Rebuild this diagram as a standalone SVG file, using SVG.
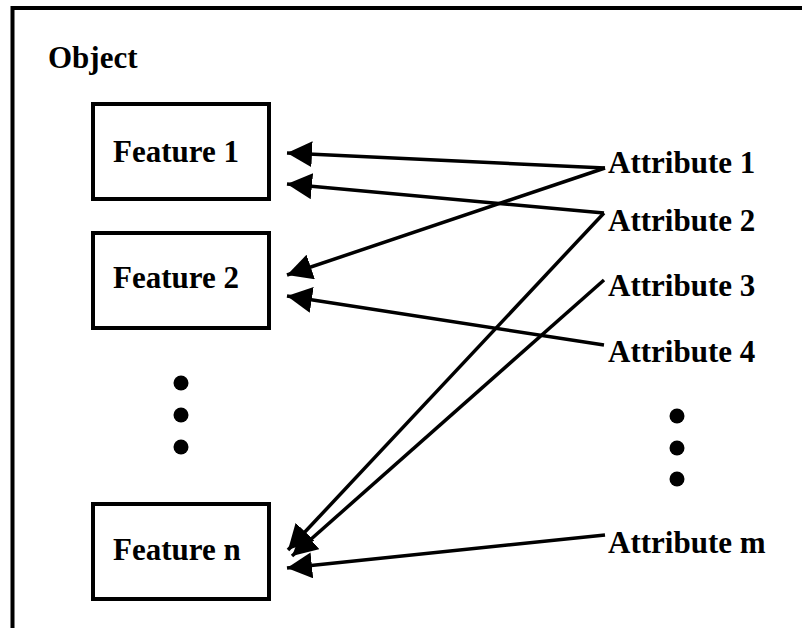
<svg xmlns="http://www.w3.org/2000/svg" width="802" height="628" viewBox="0 0 802 628">
  <style>
    .lbl { font-family: "Liberation Serif", "Times New Roman", serif; font-weight: bold; font-size: 31px; fill: #000; }
    .box { fill: #fff; stroke: #000; stroke-width: 4; }
    .edge { stroke: #000; stroke-width: 3.5; fill: none; marker-end: url(#arrow); }
    .dot { fill: #000; }
  </style>
  <defs>
    <marker id="arrow" markerUnits="userSpaceOnUse" markerWidth="26" markerHeight="26" viewBox="0 0 26 26" refX="25" refY="13" orient="auto">
      <path d="M0,0 L25,13 L0,26 z" fill="#000"/>
    </marker>
  </defs>
  <rect width="802" height="628" fill="#fff"/>

  <!-- outer object frame (open to the right and bottom) -->
  <path d="M12.5,628 L12.5,8 L802,8" fill="none" stroke="#000" stroke-width="4"/>
  <text class="lbl" x="48" y="68">Object</text>

  <g id="feature1">
    <rect class="box" x="93" y="104" width="176" height="95"/>
    <text class="lbl" x="113" y="162">Feature 1</text>
  </g>
  <g id="feature2">
    <rect class="box" x="93" y="233" width="176" height="95"/>
    <text class="lbl" x="113" y="288">Feature 2</text>
  </g>
  <g id="featureN">
    <rect class="box" x="93" y="504" width="176" height="95"/>
    <text class="lbl" x="113" y="560">Feature n</text>
  </g>

  <g id="feature-ellipsis">
    <circle class="dot" cx="181" cy="383" r="7.5"/>
    <circle class="dot" cx="181" cy="415" r="7.5"/>
    <circle class="dot" cx="181" cy="447" r="7.5"/>
  </g>

  <g id="attribute1"><text class="lbl" x="608" y="173">Attribute 1</text></g>
  <g id="attribute2"><text class="lbl" x="608" y="231">Attribute 2</text></g>
  <g id="attribute3"><text class="lbl" x="608" y="296">Attribute 3</text></g>
  <g id="attribute4"><text class="lbl" x="608" y="362">Attribute 4</text></g>
  <g id="attributeM"><text class="lbl" x="608" y="553">Attribute m</text></g>

  <g id="attribute-ellipsis">
    <circle class="dot" cx="677" cy="416" r="7.5"/>
    <circle class="dot" cx="677" cy="448" r="7.5"/>
    <circle class="dot" cx="677" cy="479" r="7.5"/>
  </g>

  <g id="connectors">
    <line class="edge" x1="605" y1="168" x2="287" y2="153"/>
    <line class="edge" x1="605" y1="168" x2="287" y2="275"/>
    <line class="edge" x1="604" y1="213" x2="287" y2="184"/>
    <line class="edge" x1="604" y1="213" x2="288" y2="550"/>
    <line class="edge" x1="604" y1="280" x2="292" y2="556"/>
    <line class="edge" x1="604" y1="345" x2="287" y2="296"/>
    <line class="edge" x1="605" y1="535" x2="287" y2="568"/>
  </g>
</svg>
